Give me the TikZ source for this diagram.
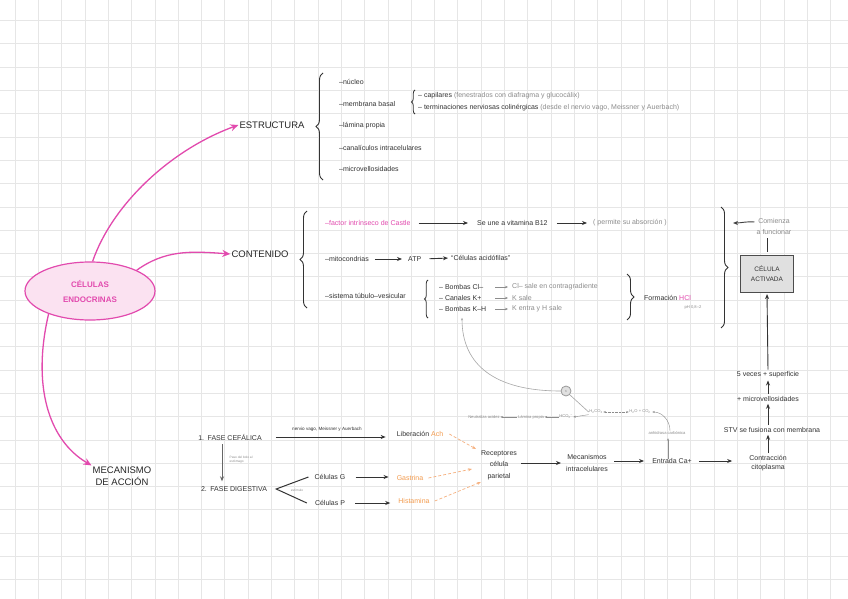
\documentclass[tikz,border=0pt]{standalone}
\usepackage{fontspec}
\setmainfont{Liberation Sans}
\usetikzlibrary{arrows.meta,decorations.pathreplacing,calc,shapes.geometric}
\definecolor{mag}{HTML}{E24AAE}
\definecolor{magfill}{HTML}{FBE2F1}
\definecolor{orng}{HTML}{F39B4E}
\definecolor{orngl}{HTML}{F6B07E}
\definecolor{txt}{HTML}{333333}
\definecolor{gtxt}{HTML}{8C8C8C}
\definecolor{gridc}{HTML}{E6E6E6}
\tikzset{
  lbl/.style={font=\fontsize{7}{9}\selectfont, text=txt, inner sep=1pt},
  item/.style={lbl, anchor=west},
  head/.style={font=\fontsize{9.5}{12}\selectfont, text=black!85, inner sep=1pt},
  tinylbl/.style={font=\fontsize{4.1}{5}\selectfont, text=gtxt, inner sep=0.5pt},
  garrow/.style={-{Stealth[length=5pt,width=4pt]}, line width=0.9pt, draw=black!80},
  sarrow/.style={-{Stealth[length=3pt,width=2.5pt]}, line width=0.5pt, draw=gtxt},
  tarrow/.style={-{Stealth[length=2.5pt,width=2pt]}, line width=0.4pt, draw=gtxt},
  oarrow/.style={-{Stealth[length=4pt,width=3pt]}, line width=0.7pt, draw=orngl, densely dashed},
  magarrow/.style={-{Stealth[length=8pt,width=7pt]}, line width=1.3pt, draw=mag},
  brc/.style={decorate, decoration={brace, amplitude=7pt}, line width=0.9pt, draw=black!80},
  brcs/.style={decorate, decoration={brace, amplitude=3.5pt}, line width=0.8pt, draw=black!80}
}
\begin{document}
\begin{tikzpicture}[x=1pt,y=-1pt]
\useasboundingbox (0,0) rectangle (848,599);
\fill[white] (0,0) rectangle (848,599);
% grid
\foreach \i in {0,...,36} \draw[gridc, line width=0.6pt] (15+23.3*\i,0) -- (15+23.3*\i,599);
\foreach \j in {0,...,25} \draw[gridc, line width=0.6pt] (0,20.4+23.3*\j) -- (848,20.4+23.3*\j);

% central ellipse
\node[ellipse, draw=mag, fill=magfill, line width=1.2pt, minimum width=130pt, minimum height=58pt,
      align=center, text=mag, font=\bfseries\fontsize{8}{15}\selectfont] (cel) at (90,291) {CÉLULAS\\ENDOCRINAS};

% ESTRUCTURA
\node[head] (estr) at (272,125) {ESTRUCTURA};
\draw[brc] (323,180) -- (323,73);
\node[item] (nuc) at (338,82) {–núcleo};
\node[item] (mb) at (338,104) {–membrana basal};
\node[item] (lp) at (338,126) {–lámina propia};
\node[item] (can) at (338,148) {–canalículos intracelulares};
\node[item] (mic) at (338,169) {–microvellosidades};
\draw[brcs] (415,114) -- (415,90);
\node[item] (cap) at (417,96) {– capilares \textcolor{gtxt}{(fenestrados con diafragma y glucocálix)}};
\node[item] (ter) at (417,108) {– terminaciones nerviosas colinérgicas \textcolor{gtxt}{(desde el nervio vago, Meissner y Auerbach)}};

% CONTENIDO
\node[head] (cont) at (260,254) {CONTENIDO};
\draw[brc] (307,308) -- (307,211);
\node[item, text=mag] (fic) at (324,223) {–factor intrínseco de Castle};
\node[item] (b12) at (476,223) {Se une a vitamina B12};
\node[item, text=gtxt] (abs) at (592,223) {( permite su absorción )};
\draw[garrow, shorten <=7pt, shorten >=8pt] (fic.east) -- (b12.west);
\draw[garrow, shorten <=8pt, shorten >=5pt] (b12.east) -- (abs.west);

\node[item] (mito) at (324,259) {–mitocondrias};
\node[item] (atp) at (407,259) {ATP};
\node[item] (acid) at (450,258) {“Células acidófilas”};
\draw[garrow, shorten <=5pt, shorten >=5pt] (mito.east) -- (atp.west);
\draw[garrow, shorten <=7pt, shorten >=2pt] (atp.east) -- (acid.west);

\node[item] (stv0) at (324,296) {–sistema túbulo–vesicular};
\draw[brcs] (428,318) -- (428,280);
\node[item] (bcl) at (438,287) {– Bombas Cl–};
\node[item] (ck) at (438,298) {– Canales K+};
\node[item] (bkh) at (438,309) {– Bombas K–H};
\node[item, text=gtxt] (rcl) at (511,287) {Cl– sale en contragradiente};
\node[item, text=gtxt] (rk) at (511,298) {K sale};
\node[item, text=gtxt] (rkh) at (511,309) {K entra y H sale};
\draw[sarrow] ([xshift=-16pt]rcl.west) -- ([xshift=-3pt]rcl.west);
\draw[sarrow] ([xshift=-16pt]rk.west) -- ([xshift=-3pt]rk.west);
\draw[sarrow] ([xshift=-16pt]rkh.west) -- ([xshift=-3pt]rkh.west);
\draw[brc] (627,274) -- (627,320);
\node[item] (hcl) at (643,298) {Formación \textcolor{mag}{HCl}};
\node[tinylbl] (ph) at (693,307) {pH 0,8–2};

% big brace and activated cell
\draw[brc] (721,207) -- (721,328);
\coordinate (btip) at (733,223);
\node[lbl, text=gtxt, align=center, font=\fontsize{7}{11}\selectfont] (com) at (774,226) {Comienza\\a funcionar};
\draw[garrow, draw=black!75] ([yshift=4pt,xshift=-1pt]com.west) to[out=175,in=0] (btip);
\node[draw=black!70, fill=black!12, line width=1.1pt, minimum width=53pt, minimum height=37pt,
      align=center, text=txt, font=\fontsize{6.5}{10}\selectfont] (act) at (767,274) {CÉLULA\\ACTIVADA};
\draw[line width=0.9pt, black!80] ([yshift=3pt]act.north) -- ([yshift=-3pt]act.north |- com.south);

% right column
\node[lbl, align=center] (cc) at (768,463) {Contracción\\citoplasma};
\node[lbl] (stvf) at (772,430) {STV se fusiona con membrana};
\node[lbl] (micr) at (768,399) {+ microvellosidades};
\node[lbl] (sup) at (768,375) {5 veces + superficie};
\draw[garrow, shorten <=1pt, shorten >=1pt] (cc.north) -- (cc.north |- stvf.south);
\draw[garrow, shorten <=1pt, shorten >=1pt] (micr.south |- stvf.north) -- (micr.south);
\draw[garrow, shorten <=1pt, shorten >=1pt] (micr.north) -- (sup.south);
\draw[garrow, shorten <=1pt, shorten >=1pt] (sup.north) -- (act.south);

% MECANISMO
\node[head, align=center] (mecn) at (122,476) {MECANISMO\\DE ACCIÓN};

% phases
\node[lbl] (fc) at (230,437) {1.\enspace FASE CEFÁLICA};
\node[lbl] (lib) at (420,434) {Liberación \textcolor{orng}{Ach}};
\draw[garrow, shorten <=13pt, shorten >=10pt] (fc.east) -- (fc.east -| lib.west);
\node[lbl, font=\fontsize{4.6}{5}\selectfont] (nv) at (327,429) {nervio vago, Meissner y Auerbach};
\node[lbl] (fd) at (234,489) {2.\enspace FASE DIGESTIVA};
\draw[garrow, draw=black!60, line width=0.8pt] ([xshift=-8pt,yshift=-3pt]fc.south) -- ([xshift=-12pt,yshift=4pt]fd.north);
\node[tinylbl, align=left, anchor=west, font=\fontsize{3.2}{4.2}\selectfont] (paso) at (229,460) {Paso del bolo al\\estómago};
\coordinate (apex) at ([xshift=8pt]fd.east);
\node[lbl] (cg) at (330,477) {Células G};
\node[lbl] (cp) at (330,503) {Células P};
\draw[line width=1pt, black!80] ([xshift=-5pt]cg.west) -- (apex) -- ([xshift=-7pt]cp.west);
\node[tinylbl, font=\fontsize{3.2}{4}\selectfont] (estm) at (297,490) {estímulo};
\node[lbl, text=orng] (gas) at (410,478) {Gastrina};
\node[lbl, text=orng] (his) at (414,501) {Histamina};
\draw[garrow, shorten <=9pt, shorten >=7pt] (cg.east) -- (cg.east -| gas.west);
\draw[garrow, shorten <=9pt, shorten >=7pt] (cp.east) -- (cp.east -| his.west);

\node[lbl, align=center, font=\fontsize{7}{11.5}\selectfont] (rec) at (499,465) {Receptores\\célula\\parietal};
\coordinate (r1) at (476,449);
\coordinate (r2) at (472,469);
\coordinate (r3) at (481,482);
\draw[oarrow] ([xshift=5pt]lib.east) -- (r1);
\draw[oarrow] ([xshift=4pt]gas.east) -- (r2);
\draw[oarrow] ([xshift=4pt]his.east) -- (r3);

\node[lbl, align=center, font=\fontsize{7}{11.5}\selectfont] (mec) at (587,463) {Mecanismos\\intracelulares};
\node[lbl] (ca) at (672,461) {Entrada Ca+};
\draw[garrow, shorten <=3pt, shorten >=4pt] (rec.east |- mec.west) -- (mec.west);
\draw[garrow, shorten <=5pt, shorten >=7pt] (mec.east |- ca.west) -- (ca.west);
\draw[garrow, shorten <=6pt, shorten >=16pt] (ca.east) -- (ca.east -| cc.west);

% gray chemistry chain
\node[circle, draw=black!40, fill=black!12, line width=0.8pt, minimum size=10pt, inner sep=0pt,
      font=\fontsize{3}{3}\selectfont, text=gtxt] (kc) at (566,391) {K};
\draw[tarrow, draw=black!35, line width=0.6pt] (kc.west) .. controls (495,391) and (462,365) .. ([xshift=24pt,yshift=-5pt]bkh.south west);
\node[tinylbl] (neu) at (484,417) {Neutraliza acidez};
\node[tinylbl] (lam) at (531,417) {Lámina propia};
\node[tinylbl] (hco) at (566,417) {HCO\textsubscript{3}\textsuperscript{–}};
\node[tinylbl] (h2) at (596,412) {H\textsubscript{2}CO\textsubscript{3}};
\node[tinylbl] (h2o) at (640,412) {H\textsubscript{2}O + CO\textsubscript{2}};
\node[tinylbl] (anh) at (667,433) {anhidrasa carbónica};
\draw[tarrow] (lam.west) -- (neu.east);
\draw[tarrow] (hco.west) -- (lam.east);
\draw[tarrow] (h2.south west) -- (hco.east);
\draw[line width=0.6pt, draw=black!35] (kc.south east) -- (h2.west);
\draw[{Stealth[length=2.5pt,width=2pt]}-{Stealth[length=2.5pt,width=2pt]}, line width=0.4pt, draw=gtxt, densely dotted] (h2.east) -- (h2o.west);
\draw[tarrow] ([xshift=3pt]anh.north) to[out=90,in=0] ([xshift=1pt]h2o.east);
\draw[tarrow] ([xshift=-4pt,yshift=-2pt]ca.north) -- ([xshift=1pt,yshift=-3pt]anh.south);

% magenta connectors
\draw[magarrow] (cel.85) .. controls (112,205) and (170,150) .. (estr.west);
\draw[magarrow] (cel.24) .. controls (165,250) and (190,251) .. (cont.west);
\draw[magarrow] (cel.209) .. controls (32,385) and (48,440) .. (mecn.north west);
\end{tikzpicture}
\end{document}
